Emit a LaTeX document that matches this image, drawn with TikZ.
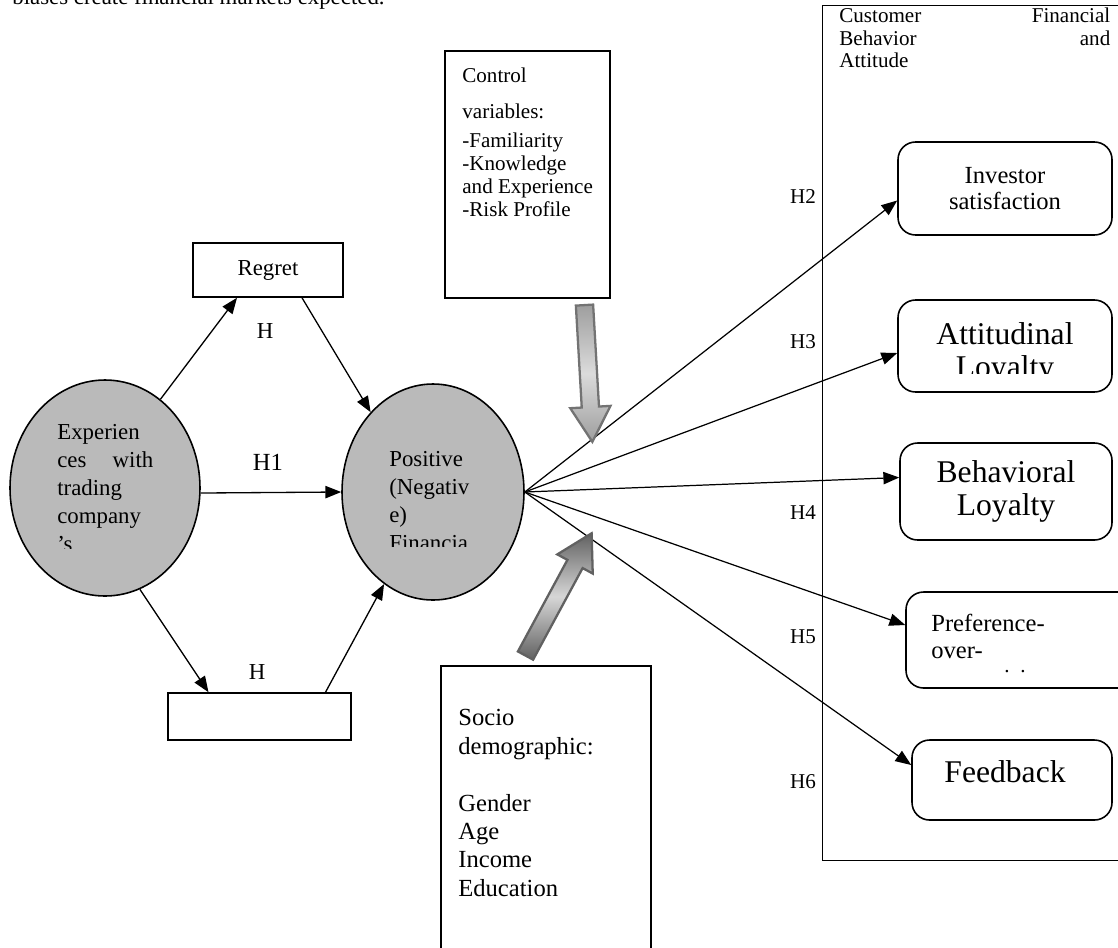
\documentclass[tikz,border=0pt]{standalone}
\usepackage{fontspec}
\setmainfont{Liberation Serif}
\usetikzlibrary{shapes.geometric,shapes.arrows,arrows.meta,calc}
\newcommand{\pxl}{0.02cm}
\newcommand{\fs}[2]{\fontsize{#1}{#2}\selectfont}
\tikzset{
  oval/.style={ellipse, draw, line width=0.9pt, fill=black!27, inner sep=0},
  plainbox/.style={rectangle, draw, line width=0.9pt, inner sep=0},
  roundbox/.style={rectangle, draw, line width=0.9pt, rounded corners=10pt, inner sep=0, align=center},
  link/.style={line width=0.75pt, -{Triangle[length=9pt,width=7pt]}},
  fan/.style={line width=0.7pt, -{Triangle[length=9pt,width=7pt]}},
  lbl/.style={inner sep=0, font=\fs{12}{14}},
  txt/.style={inner sep=0, anchor=north west, align=left},
  blockarrow/.style={single arrow, draw=black!55, line width=1.3pt, inner xsep=0, inner ysep=0.15cm,
    single arrow head extend=0.23cm, single arrow tip angle=60}
}
\begin{document}
\begin{tikzpicture}[x=0.02cm,y=-0.02cm]
\useasboundingbox (0,0) rectangle (1118,947);
\node[anchor=base west, inner sep=0, font=\fs{13}{15}] (lead) at (12,4) {biases create financial markets expected.};

\node[oval, minimum width=190*\pxl, minimum height=216*\pxl] (exper) at (105,488) {};
\begin{scope}
\clip (40,410) rectangle (170,548);
\node[txt, font=\fs{13}{16}] (extext) at (57,424) {Experien\\\makebox[1.92cm][s]{ces with}\\trading\\company\\’s};
\end{scope}
\node[oval, minimum width=182*\pxl, minimum height=216*\pxl] (posit) at (433,492) {};
\begin{scope}
\clip (380,420) rectangle (500,546);
\node[txt, font=\fs{13}{16}] (postext) at (389,451) {Positive\\(Negativ\\e)\\Financia};
\end{scope}

\node[plainbox, minimum width=150*\pxl, minimum height=54*\pxl, font=\fs{13}{15}] (regret) at (268,270) {Regret};
\node[plainbox, minimum width=183*\pxl, minimum height=47*\pxl] (lowbox) at (259.5,716.5) {};
\draw[link] (exper.58) -- ($(regret.south)+(-31,0)$);
\draw[link] ($(regret.south)+(34,0)$) -- (posit.128);
\draw[link] (exper.-3) -- (posit.west);
\draw[link] (exper.-71) -- ($(lowbox.north)+(-51,0)$);
\draw[link] ($(lowbox.north)+(66,0)$) -- (posit.242);
\node[lbl, font=\fs{13}{15}] (hreg) at (265,331) {H};
\node[lbl, font=\fs{14}{16}] (hone) at (268,462) {H1};
\node[lbl, font=\fs{13}{15}] (hlow) at (257,672) {H};

\node[plainbox, anchor=north west, minimum width=165*\pxl, minimum height=247*\pxl] (control) at (444,50) {};
\node[txt, font=\fs{12}{13}] (ctrltext) at (462,68) {Control\\[7pt]variables:\\[4pt]-Familiarity\\-Knowledge\\and Experience\\-Risk Profile};
\node[plainbox, anchor=north west, minimum width=210*\pxl, minimum height=300*\pxl] (socio) at (440,665) {};
\node[txt, font=\fs{14}{16.2}] (sociotext) at (458,709) {Socio\\demographic:\\[16.2pt]Gender\\Age\\Income\\Education};

\node[plainbox, anchor=north west, line width=0.6pt, minimum width=310*\pxl, minimum height=855*\pxl] (custbox) at (822,5) {};
\node[txt, font=\fs{12}{12.8}] (custtext) at (839,8) {\makebox[5.42cm][s]{Customer Financial}\\\makebox[5.42cm][s]{Behavior and}\\Attitude};
\node[roundbox, minimum width=214*\pxl, minimum height=93*\pxl, font=\fs{14}{15}] (invest) at (1005,188.5) {Investor\\satisfaction};
\node[roundbox, minimum width=214*\pxl, minimum height=92*\pxl] (attit) at (1005,346) {};
\begin{scope}
\clip (900,300) rectangle (1110,373);
\node[inner sep=0, anchor=north, align=center, font=\fs{18}{19}] (attext) at (1005,322) {Attitudinal\\Loyalty};
\end{scope}
\node[roundbox, minimum width=212*\pxl, minimum height=97*\pxl, font=\fs{18}{19}] (behav) at (1006,491.5) {Behavioral\\Loyalty};
\node[roundbox, minimum width=229*\pxl, minimum height=96*\pxl] (prefer) at (1020.5,640) {};
\node[txt, font=\fs{14}{15.5}] (preftext) at (931,614) {Preference-\\over-};
\node[inner sep=0, font=\fs{12}{14}] (prefdots) at (1015,672) {.\ \ .};
\node[roundbox, minimum width=200*\pxl, minimum height=80*\pxl] (feedb) at (1012,780) {};
\node[inner sep=0, font=\fs{18}{19}] (feedtext) at (1005,772) {Feedback};

\foreach \tgt/\dy in {invest/12, attit/7, behav/-14, prefer/-15, feedb/-15}
  \draw[fan] (posit.east) -- ($(\tgt.west)+(0,\dy)$);
\foreach \n/\y in {2/197, 3/342, 4/513, 5/637, 6/782}
  \node[lbl] (h\n) at (803,\y) {H\n};

\node[blockarrow, minimum height=137*\pxl, rotate=-86.7, top color=black!38, bottom color=black!38,
  middle color=black!14] (ctrlarrow) at (588,366) {};
\node[blockarrow, draw=black!62, minimum height=139*\pxl, rotate=61.6, top color=black!62, bottom color=black!62,
  middle color=black!16] (socioarrow) at (555,601) {};
\end{tikzpicture}
\end{document}
